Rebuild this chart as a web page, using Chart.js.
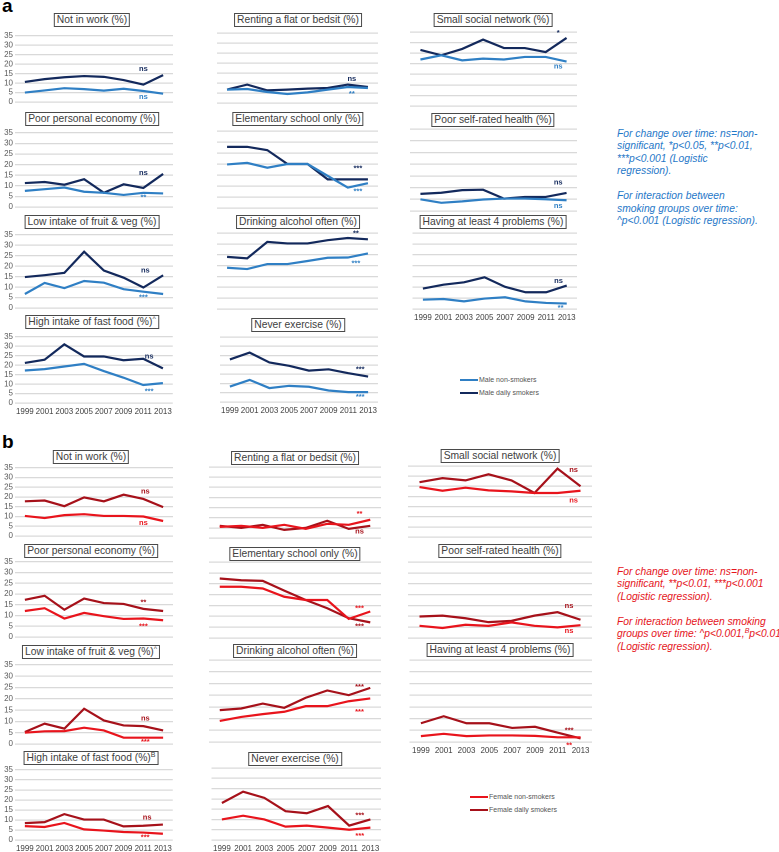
<!DOCTYPE html>
<html>
<head>
<meta charset="utf-8">
<script src="https://cdn.jsdelivr.net/npm/chart.js@4.4.0/dist/chart.umd.min.js"></script>
<style>
body{margin:0;background:#fff;}
#page{position:relative;width:779px;height:852px;overflow:hidden;font-family:"Liberation Sans",Arial,sans-serif;}
.box{position:absolute;transform:translateX(-50%);border:1px solid #4a4a4a;padding:0 2px;font-size:10.3px;line-height:12px;color:#404040;white-space:nowrap;background:#fff;}
.box sup{font-size:7px;line-height:0;vertical-align:4px;}
.part{position:absolute;left:2px;font-weight:bold;font-size:19px;line-height:19px;color:#000;}
.note{position:absolute;left:617px;font-style:italic;font-size:10.3px;line-height:12.45px;white-space:nowrap;}
.note sup{font-size:7px;line-height:0;}
.leg{position:absolute;font-size:7px;color:#555;line-height:12.5px;white-space:nowrap;}
.leg i{display:inline-block;width:18px;height:2px;vertical-align:middle;margin-right:1px;}
canvas{position:absolute;}
</style>
</head>
<body>
<div id="page">
  <div class="part" style="top:-4px">a</div>
  <div class="part" style="top:432px">b</div>
  <div class="note" style="top:128px;color:#1f78c8">For change over time: ns=non-<br>significant, *p&lt;0.05, **p&lt;0.01,<br>***p&lt;0.001 (Logistic<br>regression).<br><br>For interaction between<br>smoking groups over time:<br>^p&lt;0.001 (Logistic regression).</div>
  <div class="note" style="top:566px;color:#e5141b">For change over time: ns=non-<br>significant, **p&lt;0.01, ***p&lt;0.001<br>(Logistic regression).<br><br>For interaction between smoking<br>groups over time: ^p&lt;0.001,<sup>B</sup>p&lt;0.01<br>(Logistic regression).</div>
  <div class="leg" style="left:460px;top:374px"><i style="background:#2f7fc4"></i>Male non-smokers<br><i style="background:#13295c"></i>Male daily smokers</div>
  <div class="leg" style="left:470px;top:791px"><i style="background:#e8141c"></i>Female non-smokers<br><i style="background:#a6111a"></i>Female daily smokers</div>
</div>
<script>
const years = ['1999', '2001', '2003', '2005', '2007', '2009', '2011', '2013'];

// male (a)
const mWorkNon = [5, 6.1, 7.3, 6.8, 6, 7, 5.8, 4.4];
const mWorkDaily = [10.6, 12.1, 13.1, 13.7, 13.3, 11.6, 9.2, 14.2];
const mRentNon = [6.7, 7, 5.5, 4.5, 5.3, 6.7, 8, 7.5];
const mRentDaily = [6.7, 9.2, 6.3, 6.7, 7.2, 7.5, 9.2, 8];
const mSocialNon = [22, 24, 21.6, 22.4, 22, 23.2, 23.2, 21];
const mSocialDaily = [26.5, 24, 27, 31.4, 27.4, 27.4, 25.5, 32.2];
const mEconNon = [7.6, 8.4, 9.2, 7.2, 6.7, 5.7, 6.7, 6.4];
const mEconDaily = [11.3, 11.8, 10.5, 13.1, 6.7, 10.7, 9, 15.6];
const mSchoolNon = [19.8, 20.5, 18.3, 20, 20, 14.6, 9.3, 11.3];
const mSchoolDaily = [27.8, 27.8, 26.3, 20, 20, 13, 13, 13];
const mHealthNon = [5, 3.5, 4.1, 4.9, 5.3, 5.3, 5, 4.6];
const mHealthDaily = [7.3, 7.8, 8.9, 9.1, 5.3, 6, 6, 7.7];
const mFruitNon = [6.7, 12, 9.5, 12.9, 12.1, 9, 7.8, 6.7];
const mFruitDaily = [14.8, 15.7, 16.8, 26.9, 17.9, 14.5, 9.8, 15.6];
const mAlcoholNon = [19, 18.4, 20.7, 20.7, 22.1, 23.6, 23.7, 25.6];
const mAlcoholDaily = [24, 23.3, 30.9, 30.2, 30.2, 31.7, 32.7, 32.1];
const mProblemsNon = [4.3, 4.6, 3.5, 4.8, 5.4, 3.5, 2.8, 2.5];
const mProblemsDaily = [9.4, 11.2, 12.3, 14.6, 10.2, 7.7, 7.7, 10.8];
const mFastNon = [17.2, 17.9, 19.3, 20.7, 16.9, 13.4, 9.5, 10.5];
const mFastDaily = [21.2, 22.9, 31, 24.6, 24.6, 22.6, 23.4, 18.3];
const mExerciseNon = [8.3, 11.9, 7.5, 8.7, 8.2, 6.2, 5.3, 5.3];
const mExerciseDaily = [22.9, 26.6, 21.3, 19.5, 16.9, 17.6, 15.5, 13.7];

// female (b)
const fWorkNon = [10.3, 9.2, 10.7, 11.2, 10.3, 10.3, 10, 7.7];
const fWorkDaily = [17.8, 18.2, 15.3, 19.8, 17.8, 21.2, 19, 14.8];
const fRentNon = [5.5, 6, 5, 6.5, 4.5, 7, 6.5, 9];
const fRentDaily = [6, 5, 6.5, 4, 5, 8.5, 4.5, 6];
const fSocialNon = [24.6, 22.8, 24.3, 23, 22.5, 21.7, 21.7, 22.8];
const fSocialDaily = [27, 29, 27.9, 30.9, 27.9, 21.7, 33.7, 25];
const fEconNon = [12.1, 13.4, 8.6, 11.2, 9.7, 8.4, 8.6, 7.8];
const fEconDaily = [17.3, 19.2, 12.7, 17.9, 15.8, 15.4, 13.1, 12.1];
const fSchoolNon = [23.6, 23.6, 22.8, 19, 17.5, 17.5, 8.8, 12.2];
const fSchoolDaily = [27.4, 26.6, 26.3, 21.8, 17.5, 13.7, 9.1, 7.2];
const fHealthNon = [5.6, 4.6, 6.1, 5.6, 7.2, 5.6, 4.9, 5.9];
const fHealthDaily = [9.9, 10.3, 9.1, 7.3, 7.9, 10.3, 11.9, 8.4];
const fFruitNon = [5, 5.6, 5.7, 7.2, 6, 2.8, 2.8, 2.8];
const fFruitDaily = [5.3, 9, 6.8, 15.6, 10.4, 8.2, 7.9, 6];
const fAlcoholNon = [9, 10.7, 11.9, 12.9, 15.3, 15.3, 17.4, 18.6];
const fAlcoholDaily = [13.6, 14.3, 16.4, 14.6, 18.9, 22, 20, 23.1];
const fProblemsNon = [2.5, 3.5, 2.5, 2.8, 2.8, 2.6, 2, 2];
const fProblemsDaily = [8, 11, 8, 8, 6, 6.5, 4, 1.5];
const fFastNon = [6.9, 6.5, 8.5, 5.3, 4.7, 4, 3.7, 3.1];
const fFastDaily = [8.4, 8.9, 12.9, 10.2, 10.2, 6.8, 7.1, 7.7];
const fExerciseNon = [10, 11.8, 10, 6.5, 7, 6, 5, 6];
const fExerciseDaily = [18, 23.5, 20.5, 14, 13, 16.5, 7, 10];

const colours = {
  a: {n: '#2f7fc4', d: '#13295c'},
  b: {n: '#e8141c', d: '#a6111a'}
};

// plot columns (left / right edge of the gridlines) and title centre
const cols = {
  a1: {l: 15, r: 173, c: 92}, a2: {l: 217, r: 378, c: 298}, a3: {l: 410, r: 577, c: 493},
  b1: {l: 15, r: 173, c: 91}, b2: {l: 209, r: 381, c: 295}, b3: {l: 408, r: 592, c: 500}
};

// sig marks: [text, series, x index, y value]
const panels = [
  {p: 'a', col: 'a1', t: 34, b: 102.5, tt: 13, title: 'Not in work (%)', n: mWorkNon, d: mWorkDaily,
   sig: [['ns', 'd', 6, 17.5], ['ns', 'n', 6, 2.6]]},
  {p: 'a', col: 'a2', t: 33, b: 103, tt: 13, title: 'Renting a flat or bedsit (%)', n: mRentNon, d: mRentDaily,
   sig: [['ns', 'd', 6.2, 12], ['**', 'n', 6.2, 4.6]]},
  {p: 'a', col: 'a3', t: 32, b: 106, tt: 13, title: 'Small social network (%)', n: mSocialNon, d: mSocialDaily,
   sig: [['*', 'd', 6.6, 34.5], ['ns', 'n', 6.6, 18.8]]},
  {p: 'a', col: 'a1', t: 131, b: 207, tt: 112, title: 'Poor personal economy (%)', n: mEconNon, d: mEconDaily,
   sig: [['ns', 'd', 6, 16], ['**', 'n', 6, 4.6]]},
  {p: 'a', col: 'a2', t: 131, b: 208, tt: 112, title: 'Elementary school only (%)', n: mSchoolNon, d: mSchoolDaily,
   sig: [['***', 'd', 6.5, 18], ['***', 'n', 6.5, 7.6]]},
  {p: 'a', col: 'a3', t: 129, b: 211, tt: 113, title: 'Poor self-rated health (%)', n: mHealthNon, d: mHealthDaily,
   sig: [['ns', 'd', 6.6, 12.2], ['ns', 'n', 6.6, 2.2]]},
  {p: 'a', col: 'a1', t: 232.7, b: 307.7, tt: 215, title: 'Low intake of fruit &amp; veg (%)', n: mFruitNon, d: mFruitDaily,
   sig: [['ns', 'd', 6.1, 17.9], ['***', 'n', 6, 5]]},
  {p: 'a', col: 'a2', t: 233, b: 309, tt: 215, title: 'Drinking alcohol often (%)', n: mAlcoholNon, d: mAlcoholDaily,
   sig: [['**', 'd', 6.4, 34.7], ['***', 'n', 6.4, 21]]},
  {p: 'a', col: 'a3', t: 233, b: 309, tt: 215, title: 'Having at least 4 problems (%)', n: mProblemsNon, d: mProblemsDaily, x: true,
   sig: [['ns', 'd', 6.6, 13], ['**', 'n', 6.7, 0.4]]},
  {p: 'a', col: 'a1', t: 335, b: 403, tt: 315, title: 'High intake of fast food (%)<sup>^</sup>', n: mFastNon, d: mFastDaily, x: true,
   sig: [['ns', 'd', 6.3, 24.7], ['***', 'n', 6.3, 6]]},
  {p: 'a', col: 'a2', t: 337, b: 402, tt: 318, title: 'Never exercise (%)', n: mExerciseNon, d: mExerciseDaily, x: true,
   sig: [['***', 'd', 6.6, 17.6], ['***', 'n', 6.6, 2.7]]},

  {p: 'b', col: 'b1', t: 466, b: 536, tt: 450, title: 'Not in work (%)', n: fWorkNon, d: fWorkDaily,
   sig: [['ns', 'd', 6.1, 22.8], ['ns', 'n', 6, 6.7]]},
  {p: 'b', col: 'b2', t: 467, b: 538, tt: 451, title: 'Renting a flat or bedsit (%)', n: fRentNon, d: fRentDaily,
   sig: [['**', 'n', 6.5, 11.9], ['ns', 'd', 6.5, 3.2]]},
  {p: 'b', col: 'b3', t: 466, b: 537, tt: 449, title: 'Small social network (%)', n: fSocialNon, d: fSocialDaily,
   sig: [['ns', 'd', 6.7, 33], ['ns', 'n', 6.7, 18]]},
  {p: 'b', col: 'b1', t: 560, b: 637, tt: 544, title: 'Poor personal economy (%)', n: fEconNon, d: fEconDaily,
   sig: [['**', 'd', 6, 16.1], ['***', 'n', 6, 4.8]]},
  {p: 'b', col: 'b2', t: 562, b: 638, tt: 547, title: 'Elementary school only (%)', n: fSchoolNon, d: fSchoolDaily,
   sig: [['***', 'n', 6.5, 13.7], ['***', 'd', 6.5, 5.3]]},
  {p: 'b', col: 'b3', t: 562, b: 638, tt: 544, title: 'Poor self-rated health (%)', n: fHealthNon, d: fHealthDaily,
   sig: [['ns', 'd', 6.5, 14.8], ['ns', 'n', 6.5, 3.3]]},
  {p: 'b', col: 'b1', t: 663, b: 744, tt: 645, title: 'Low intake of fruit &amp; veg (%)<sup>^</sup>', n: fFruitNon, d: fFruitDaily,
   sig: [['ns', 'd', 6.1, 11.2], ['***', 'n', 6.1, 0.9]]},
  {p: 'b', col: 'b2', t: 660, b: 742, tt: 644, title: 'Drinking alcohol often (%)', n: fAlcoholNon, d: fAlcoholDaily,
   sig: [['***', 'd', 6.5, 23.6], ['***', 'n', 6.5, 12.9]]},
  {p: 'b', col: 'b3', t: 660, b: 742, tt: 643, title: 'Having at least 4 problems (%)', n: fProblemsNon, d: fProblemsDaily, x: true,
   sig: [['***', 'd', 6.5, 5], ['**', 'n', 6.5, -1.5]]},
  {p: 'b', col: 'b1', t: 768, b: 840, tt: 751, title: 'High intake of fast food (%)<sup>B</sup>', n: fFastNon, d: fFastDaily, x: true,
   sig: [['ns', 'd', 6.2, 11.3], ['***', 'n', 6.1, 1.3]]},
  {p: 'b', col: 'b2', t: 768, b: 840, tt: 752, title: 'Never exercise (%)', n: fExerciseNon, d: fExerciseDaily, x: true,
   sig: [['***', 'd', 6.5, 12], ['***', 'n', 6.5, 2]]}
];

const sigPlugin = {
  id: 'sig',
  afterDatasetsDraw(chart, args, opts) {
    const {ctx, scales: {x, y}} = chart;
    ctx.save();
    ctx.font = 'bold 7.5px "Liberation Sans", Arial, sans-serif';
    ctx.textAlign = 'center';
    ctx.textBaseline = 'middle';
    (opts.marks || []).forEach(m => {
      ctx.fillStyle = opts.colours[m[1]];
      ctx.fillText(m[0], x.getPixelForValue(m[2]), y.getPixelForValue(m[3]));
    });
    ctx.restore();
  }
};

const page = document.getElementById('page');

panels.forEach(pn => {
  const c = cols[pn.col];
  const yTicks = pn.col.endsWith('1');
  const yW = yTicks ? 15 : 0;
  const padT = 5, padR = 3;
  const xH = pn.x ? 16 : 10;
  const w = c.r - c.l + yW + padR;
  const h = pn.b - pn.t + padT + xH;

  const box = document.createElement('div');
  box.className = 'box';
  box.style.left = c.c + 'px';
  box.style.top = pn.tt + 'px';
  box.innerHTML = pn.title;
  page.appendChild(box);

  const cv = document.createElement('canvas');
  cv.width = w;
  cv.height = h;
  cv.style.left = (c.l - yW) + 'px';
  cv.style.top = (pn.t - padT) + 'px';
  page.appendChild(cv);

  const col = colours[pn.p];
  new Chart(cv, {
    type: 'line',
    data: {
      labels: years,
      datasets: [
        {label: 'non-smokers', data: pn.n, borderColor: col.n, backgroundColor: col.n},
        {label: 'daily smokers', data: pn.d, borderColor: col.d, backgroundColor: col.d}
      ]
    },
    options: {
      responsive: false,
      animation: false,
      devicePixelRatio: 2,
      layout: {padding: {top: padT, right: padR, left: 0, bottom: 0}},
      elements: {
        line: {borderWidth: 2.2, tension: 0},
        point: {radius: 0, hoverRadius: 0}
      },
      plugins: {
        legend: {display: false},
        tooltip: {enabled: false},
        sig: {marks: pn.sig, colours: col}
      },
      scales: {
        x: {
          offset: true,
          grid: {display: false, drawTicks: false},
          border: {display: false},
          ticks: {
            display: !!pn.x,
            autoSkip: false,
            maxRotation: 0,
            padding: 4,
            color: '#404040',
            font: {size: 8, family: '"Liberation Sans", Arial, sans-serif'}
          },
          afterFit: s => { s.height = xH; }
        },
        y: {
          min: 0,
          max: 35,
          grid: {color: '#d9d9d9', lineWidth: 1.2, drawTicks: false},
          border: {display: false},
          ticks: {
            display: yTicks,
            stepSize: 5,
            autoSkip: false,
            padding: 2,
            color: '#595959',
            font: {size: 8, family: '"Liberation Sans", Arial, sans-serif'}
          },
          afterFit: s => { s.width = yW; }
        }
      }
    },
    plugins: [sigPlugin]
  });
});
</script>
</body>
</html>
